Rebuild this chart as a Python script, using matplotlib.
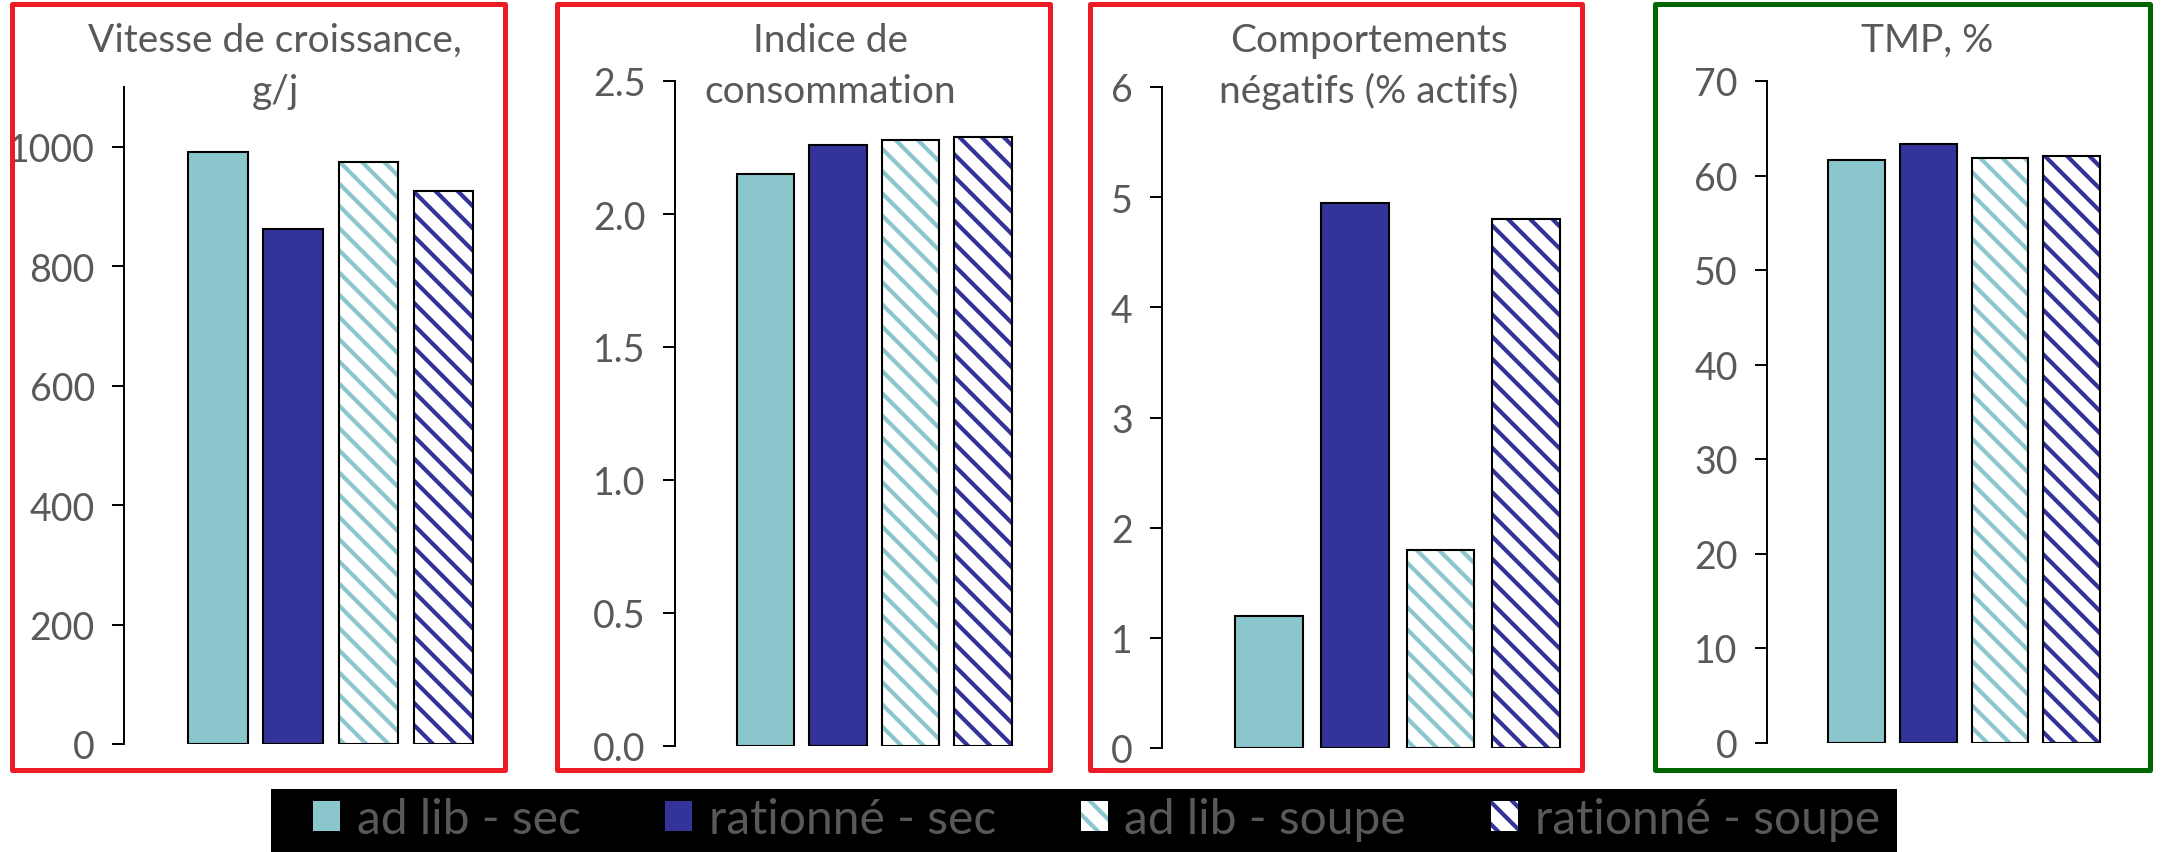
import numpy as np
import matplotlib.pyplot as plt
from matplotlib.patches import Patch, Rectangle
from matplotlib.ticker import FormatStrFormatter, MultipleLocator

# treatment groups, in bar order
groups = ['ad lib - sec', 'rationné - sec', 'ad lib - soupe', 'rationné - soupe']
group_colors = ['#8BC6CC', '#34339A', '#8BC6CC', '#34339A']
group_hatched = [False, False, True, True]

croissance = [992, 862, 975, 926]
consommation = [2.15, 2.26, 2.28, 2.29]
comportements = [1.2, 4.95, 1.8, 4.8]
tmp = [61.6, 63.3, 61.9, 62.1]

titles = [
    ['Vitesse de croissance,', 'g/j'],
    ['Indice de', 'consommation'],
    ['Comportements', 'négatifs (% actifs)'],
    ['TMP, %'],
]
y_max = [1100, 2.5, 6, 70]
y_step = [200, 0.5, 1, 10]
y_fmt = ['%d', '%.1f', '%d', '%d']

RED = '#ED1C24'
GREEN = '#006600'
GREY = '#595959'
HATCH = '\\\\\\'

W, H = 2161, 853
DPI = 200

plt.rcParams['font.family'] = ['Lato', 'DejaVu Sans']
plt.rcParams['hatch.linewidth'] = 1.5

fig = plt.figure(figsize=(W / DPI, H / DPI), dpi=DPI)


def fx(px):
    return px / W


def fy(py):
    return 1 - py / H


# pixel layout: axes (left, zero line, px per bar, top), frame (x0, y0, x1, y1), title centre
layout = [
    dict(axes=(124, 745, 75.2, 88), frame=(12, 5, 505, 771), tx=275, edge=RED),
    dict(axes=(674.6, 747, 72.6, 82), frame=(557, 5, 1050, 771), tx=830.5, edge=RED),
    dict(axes=(1162, 749, 85.7, 88), frame=(1090, 5, 1582, 771), tx=1369, edge=RED),
    dict(axes=(1767, 743.5, 71.7, 82), frame=(1655, 5, 2150, 771), tx=1927.5, edge=GREEN),
]
series = [croissance, consommation, comportements, tmp]

x = np.arange(len(groups))
bar_w = 0.79
x_lo, x_hi = -1.25, 3.6

for values, title, ymax, step, fmt, lay in zip(series, titles, y_max, y_step, y_fmt, layout):
    left, y0, unit, ytop = lay['axes']
    width = (x_hi - x_lo) * unit
    ax = fig.add_axes([fx(left), fy(y0), width / W, (y0 - ytop) / H])
    for xi, v, c, h in zip(x, values, group_colors, group_hatched):
        if h:
            ax.bar(xi, v, bar_w, facecolor='white', edgecolor=c, hatch=HATCH, linewidth=0)
            ax.bar(xi, v, bar_w, fill=False, edgecolor='black', linewidth=0.75)
        else:
            ax.bar(xi, v, bar_w, color=c, edgecolor='black', linewidth=0.75)
    ax.set_xlim(x_lo, x_hi)
    ax.set_ylim(0, ymax)
    ax.yaxis.set_major_locator(MultipleLocator(step))
    ax.yaxis.set_major_formatter(FormatStrFormatter(fmt))
    for s in ['top', 'right', 'bottom']:
        ax.spines[s].set_visible(False)
    ax.spines['left'].set_linewidth(0.7)
    ax.set_xticks([])
    ax.tick_params(axis='y', labelsize=13.5, labelcolor=GREY, length=4.3, width=0.7, pad=6.2)
    ax.patch.set_alpha(0)

    # title lines on fixed baselines
    for line, base in zip(title, [52, 103]):
        fig.text(fx(lay['tx']), fy(base), line, ha='center', va='baseline',
                 fontsize=14.0, color=GREY)

    x0, yt, x1, yb = lay['frame']
    fig.add_artist(Rectangle((fx(x0), fy(yb)), (x1 - x0) / W, (yb - yt) / H,
                             transform=fig.transFigure, fill=False,
                             edgecolor=lay['edge'], linewidth=1.8, joinstyle='round',
                             zorder=10))

# legend strip
fig.add_artist(Rectangle((fx(271), 0), (1897 - 271) / W, fy(790),
                         transform=fig.transFigure, facecolor='black',
                         edgecolor='none', zorder=1))
handles = []
for c, h in zip(group_colors, group_hatched):
    if h:
        handles.append(Patch(facecolor='white', edgecolor=c, hatch=HATCH, linewidth=0))
    else:
        handles.append(Patch(facecolor=c, edgecolor='none'))
fig.legend(handles, groups, loc='center left', bbox_to_anchor=(fx(313), fy(820)),
           ncol=4, frameon=False, fontsize=17.3, labelcolor=GREY,
           handlelength=0.56, handleheight=0.56, handletextpad=0.35,
           columnspacing=1.76, borderpad=0, borderaxespad=0)

fig.savefig('out.png', dpi=DPI)
